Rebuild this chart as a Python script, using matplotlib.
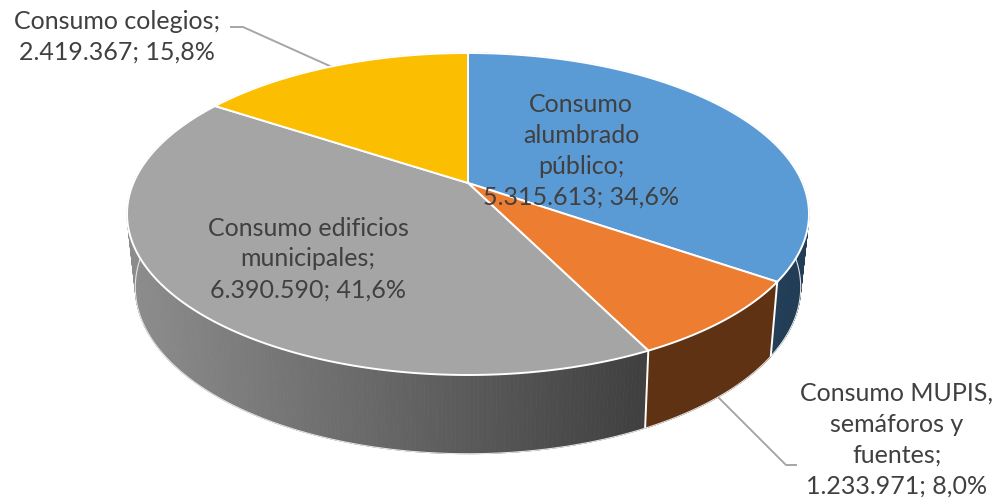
import matplotlib

matplotlib.use("Agg")
import matplotlib.pyplot as plt
from matplotlib.collections import PolyCollection
from matplotlib.colors import to_rgb
from matplotlib.patches import Polygon
import numpy as np

names = ["Consumo\nalumbrado\npúblico", "Consumo MUPIS,\nsemáforos y\nfuentes",
         "Consumo edificios\nmunicipales", "Consumo colegios"]
values = [5315613, 1233971, 6390590, 2419367]
value_labels = ["5.315.613", "1.233.971", "6.390.590", "2.419.367"]
pct_labels = ["34,6%", "8,0%", "41,6%", "15,8%"]

top_colors = ["#5B9BD5", "#ED7D31", "#A5A5A5", "#FBBE00"]
side_colors = ["#223E56", "#5F3214", None, "#7F6000"]
label_pos = [(581, 151), (897, 440), (308, 259), (117, 37)]

# pie seen in perspective: (u, v) on the unit disc -> pixel
CX = 468


def project(theta, a, b, k, scale):
    u, v = np.sin(theta), np.cos(theta)
    w = 1 + k * v
    return CX + scale * u / w, (a + b * v) / w


def top_rim(theta):
    return project(theta, 183.0, -119.8, 0.1925, 334.6)


def bottom_rim(theta):
    return project(theta, 254.0, -109.0, 0.2, 326.0)


def gray_shade(x):
    t = np.clip((x - 135) / (643 - 135), 0, 1)
    return (0.55 - 0.30 * t,) * 3


fig = plt.figure(figsize=(10.04, 5.03), dpi=100, facecolor="white")
ax = fig.add_axes([0, 0, 1, 1])
ax.set_xlim(0, 1004)
ax.set_ylim(503, 0)
ax.axis("off")

frac = np.cumsum([0] + values) / sum(values)
angles = frac * 2 * np.pi

# side wall
for i in range(len(values)):
    th = np.linspace(angles[i], angles[i + 1], 240)
    xt, yt = top_rim(th)
    xb, yb = bottom_rim(th)
    quads = [
        [(xt[j], yt[j]), (xt[j + 1], yt[j + 1]), (xb[j + 1], yb[j + 1]), (xb[j], yb[j])]
        for j in range(len(th) - 1)
    ]
    if side_colors[i] is None:
        cols = [gray_shade((xt[j] + xb[j]) / 2) for j in range(len(th) - 1)]
    else:
        cols = [to_rgb(side_colors[i])] * (len(th) - 1)
    ax.add_collection(PolyCollection(quads, facecolors=cols, edgecolors=cols, linewidths=0.6, zorder=2))

# thin light line along the lower rim
th = np.linspace(angles[0], angles[-1], 720)
xb, yb = bottom_rim(th)
ax.plot(xb, yb, color="#e4e4e4", lw=0.8, zorder=3)

# white separators on the wall
for a in angles:
    xt, yt = top_rim(a)
    xb, yb = bottom_rim(a)
    if yt > 200:
        ax.plot([xt, xb], [yt, yb], color="white", lw=1.4, zorder=3, solid_capstyle="butt")

# top face
for i in range(len(values)):
    th = np.linspace(angles[i], angles[i + 1], 240)
    xt, yt = top_rim(th)
    pts = np.column_stack([np.r_[CX, xt], np.r_[183.0, yt]])
    ax.add_patch(Polygon(pts, closed=True, facecolor=top_colors[i], edgecolor="white", lw=1.4, zorder=4))

# leader lines
ax.plot([231, 243, 332], [27, 27, 67], color="#A6A6A6", lw=1.4, zorder=1)
ax.plot([719, 786, 796], [398, 465, 465], color="#A6A6A6", lw=1.4, zorder=1)

for name, val, pct, (x, y) in zip(names, value_labels, pct_labels, label_pos):
    ax.text(x, y, f"{name};\n{val}; {pct}", ha="center", va="center", family="Lato",
            fontsize=18, color="#404040", linespacing=1.42, zorder=5)

fig.savefig("out.png", dpi=100, facecolor="white")
